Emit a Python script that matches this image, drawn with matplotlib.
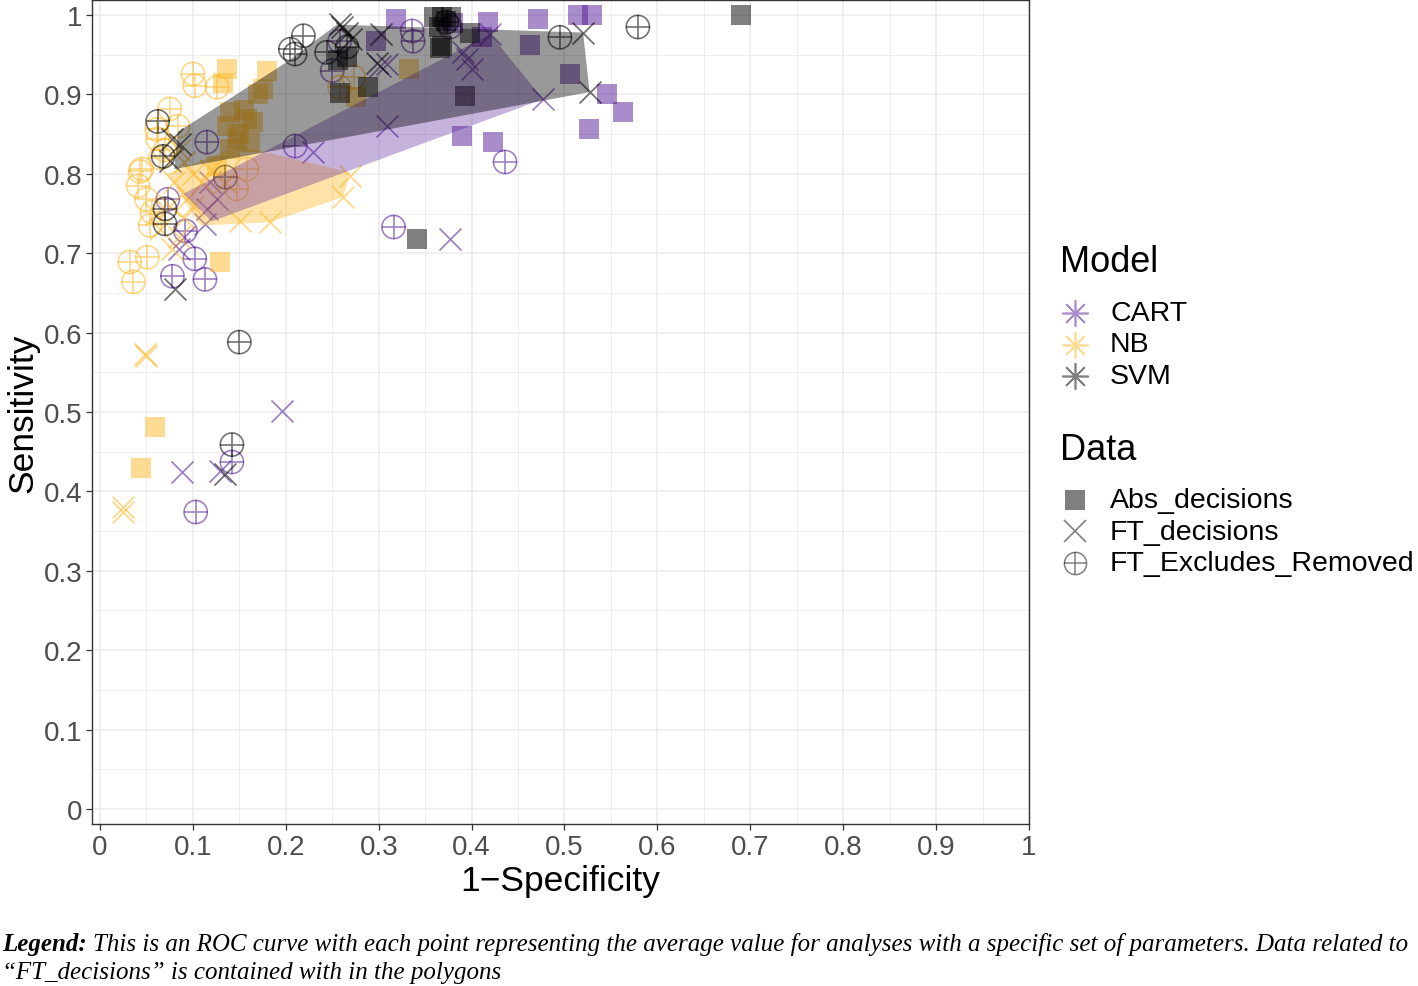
import matplotlib
matplotlib.use("Agg")
import matplotlib.pyplot as plt

plt.rcParams['font.family'] = ['Liberation Sans', 'DejaVu Sans']

# colours per model
colors = {'CART': '#541b96', 'NB': '#fdb827', 'SVM': '#000000'}

# ---- data: (1-specificity, sensitivity) per model / data set ----
cart_abs_x = [0.319, 0.418, 0.471, 0.515, 0.530, 0.546, 0.563, 0.526, 0.390, 0.423, 0.297, 0.463, 0.506, 0.411, 0.380]
cart_abs_y = [0.995, 0.991, 0.995, 1.000, 1.000, 0.900, 0.878, 0.856, 0.848, 0.840, 0.967, 0.962, 0.926, 0.973, 0.990]
nb_abs_x = [0.137, 0.180, 0.132, 0.176, 0.170, 0.140, 0.158, 0.137, 0.147, 0.140, 0.161, 0.126, 0.150, 0.165, 0.155, 0.333, 0.276, 0.129, 0.059, 0.044]
nb_abs_y = [0.932, 0.930, 0.915, 0.907, 0.900, 0.878, 0.869, 0.860, 0.844, 0.831, 0.840, 0.810, 0.850, 0.865, 0.880, 0.932, 0.897, 0.689, 0.481, 0.430]
svm_abs_x = [0.360, 0.368, 0.372, 0.378, 0.365, 0.368, 0.398, 0.393, 0.289, 0.256, 0.266, 0.258, 0.341, 0.690, 0.366]
svm_abs_y = [0.997, 0.997, 0.993, 0.997, 0.985, 0.961, 0.978, 0.898, 0.909, 0.944, 0.947, 0.902, 0.718, 1.000, 0.958]

cart_ft_x = [0.309, 0.309, 0.229, 0.477, 0.391, 0.400, 0.420, 0.377, 0.088, 0.196, 0.129, 0.113, 0.118, 0.126, 0.115, 0.090, 0.085, 0.395, 0.301]
cart_ft_y = [0.938, 0.860, 0.827, 0.894, 0.953, 0.932, 0.976, 0.718, 0.424, 0.501, 0.426, 0.737, 0.790, 0.768, 0.756, 0.720, 0.705, 0.945, 0.936]
nb_ft_x = [0.269, 0.262, 0.183, 0.151, 0.048, 0.050, 0.025, 0.025, 0.085, 0.090, 0.100, 0.110, 0.080, 0.095, 0.075, 0.090, 0.078, 0.085, 0.100, 0.120, 0.135, 0.060, 0.065]
nb_ft_y = [0.797, 0.771, 0.739, 0.741, 0.573, 0.570, 0.380, 0.374, 0.830, 0.815, 0.800, 0.790, 0.790, 0.770, 0.760, 0.745, 0.705, 0.720, 0.760, 0.805, 0.790, 0.750, 0.730]
svm_ft_x = [0.258, 0.266, 0.303, 0.298, 0.520, 0.527, 0.260, 0.270, 0.081, 0.135, 0.078, 0.086, 0.075]
svm_ft_y = [0.989, 0.978, 0.976, 0.940, 0.978, 0.903, 0.985, 0.970, 0.655, 0.422, 0.844, 0.838, 0.816]

cart_ex_x = [0.336, 0.337, 0.250, 0.258, 0.210, 0.436, 0.316, 0.115, 0.073, 0.092, 0.102, 0.078, 0.113, 0.142, 0.103, 0.377]
cart_ex_y = [0.980, 0.967, 0.930, 0.967, 0.835, 0.815, 0.733, 0.840, 0.768, 0.728, 0.693, 0.671, 0.667, 0.437, 0.374, 0.985]
nb_ex_x = [0.100, 0.102, 0.126, 0.075, 0.061, 0.084, 0.062, 0.043, 0.041, 0.045, 0.050, 0.056, 0.054, 0.032, 0.051, 0.036, 0.273, 0.258, 0.158, 0.147, 0.070, 0.065]
nb_ex_y = [0.926, 0.911, 0.909, 0.882, 0.856, 0.860, 0.844, 0.803, 0.785, 0.806, 0.768, 0.752, 0.735, 0.689, 0.695, 0.664, 0.922, 0.909, 0.806, 0.781, 0.830, 0.820]
svm_ex_x = [0.219, 0.205, 0.210, 0.244, 0.266, 0.495, 0.579, 0.373, 0.062, 0.068, 0.070, 0.070, 0.150, 0.142, 0.135]
svm_ex_y = [0.974, 0.957, 0.951, 0.953, 0.960, 0.972, 0.985, 0.991, 0.866, 0.822, 0.756, 0.737, 0.588, 0.459, 0.796]

# polygons around FT_decisions points
svm_poly_x = [0.080, 0.084, 0.200, 0.255, 0.520, 0.527]
svm_poly_y = [0.806, 0.853, 0.940, 0.988, 0.978, 0.903]
cart_poly_x = [0.090, 0.420, 0.477, 0.120]
cart_poly_y = [0.775, 0.976, 0.894, 0.740]
nb_poly_x = [0.072, 0.150, 0.269, 0.262, 0.183, 0.108]
nb_poly_y = [0.800, 0.835, 0.802, 0.771, 0.739, 0.735]

fig = plt.figure(figsize=(14.18, 9.87), dpi=100)
W, H = 1418, 987
ax = fig.add_axes([92 / W, 1 - 825 / H, (1029 - 92) / W, (825 - 1) / H])

# grid
ax.set_xticks([i / 10 for i in range(11)])
ax.set_yticks([i / 10 for i in range(11)])
ax.set_xticks([i / 20 for i in range(1, 21, 2)], minor=True)
ax.set_yticks([i / 20 for i in range(1, 21, 2)], minor=True)
ax.grid(which='major', color='#ebebeb', lw=1.1, zorder=0)
ax.grid(which='minor', color='#ebebeb', lw=0.6, zorder=0)
ax.set_axisbelow(True)
ax.tick_params(which='minor', length=0)
ax.tick_params(which='major', length=4, width=0.9, color='#333333', labelsize=20,
               labelcolor='#4d4d4d', pad=3)
ax.set_xticklabels(['0', '0.1', '0.2', '0.3', '0.4', '0.5', '0.6', '0.7', '0.8', '0.9', '1'])
ax.set_yticklabels(['0', '0.1', '0.2', '0.3', '0.4', '0.5', '0.6', '0.7', '0.8', '0.9', '1'])
for s in ax.spines.values():
    s.set_color('#333333')
    s.set_linewidth(1.0)

ax.set_xlim(-0.0086, 1.0)
ax.set_ylim(-0.019, 1.019)
ax.set_xlabel('1\u2212Specificity', fontsize=25.5, labelpad=3)
ax.set_ylabel('Sensitivity', fontsize=25.5, labelpad=3)

abs_data = {'CART': (cart_abs_x, cart_abs_y), 'NB': (nb_abs_x, nb_abs_y), 'SVM': (svm_abs_x, svm_abs_y)}
ft_data = {'CART': (cart_ft_x, cart_ft_y), 'NB': (nb_ft_x, nb_ft_y), 'SVM': (svm_ft_x, svm_ft_y)}
ex_data = {'CART': (cart_ex_x, cart_ex_y), 'NB': (nb_ex_x, nb_ex_y), 'SVM': (svm_ex_x, svm_ex_y)}
polys = {'NB': (nb_poly_x, nb_poly_y), 'CART': (cart_poly_x, cart_poly_y), 'SVM': (svm_poly_x, svm_poly_y)}
poly_alpha = {'NB': 0.4, 'CART': 0.33, 'SVM': 0.4}

for m in ['CART', 'NB', 'SVM']:
    c = colors[m]
    x, y = abs_data[m]
    ax.scatter(x, y, marker='s', s=200, color=c, alpha=0.5, lw=0, zorder=2)
    x, y = ft_data[m]
    ax.scatter(x, y, marker='x', s=250, color=c, alpha=0.55, lw=1.3, zorder=2)
    x, y = ex_data[m]
    ax.scatter(x, y, marker='o', s=280, facecolors='none', edgecolors=c, alpha=0.55, lw=1.2, zorder=2)
    ax.scatter(x, y, marker='+', s=280, color=c, alpha=0.55, lw=1.2, zorder=2)

for m in ['NB', 'CART', 'SVM']:
    px, py = polys[m]
    ax.fill(px, py, color=colors[m], alpha=poly_alpha[m], lw=0, zorder=3)

# ---- legend drawn by hand on the right ----
lg = fig.add_axes([0, 0, 1, 1], facecolor='none')
lg.set_xlim(0, W)
lg.set_ylim(H, 0)
lg.axis('off')
lg.text(1060, 263, 'Model', fontsize=26, va='center', ha='left')
for i, m in enumerate(['CART', 'NB', 'SVM']):
    yy = 314 + i * 31.5
    lg.plot([1075], [yy], marker=(8, 2, 0), ms=19, color=colors[m], alpha=0.5, mew=1.2, ls='none')
    lg.text(1110, yy, m, fontsize=20.5, va='center', ha='left')
lg.text(1060, 451, 'Data', fontsize=26, va='center', ha='left')
dlabels = ['Abs_decisions', 'FT_decisions', 'FT_Excludes_Removed']
lg.plot([1075], [501], marker='s', ms=14, color='k', alpha=0.5, mew=0, ls='none')
lg.plot([1075], [532], marker='x', ms=16, color='k', alpha=0.5, mew=1.2, ls='none')
lg.plot([1075], [564], marker='o', ms=16, mfc='none', mec='k', alpha=0.5, mew=1.1, ls='none')
lg.plot([1075], [564], marker='+', ms=16, color='k', alpha=0.5, mew=1.1, ls='none')
for i, t in enumerate(dlabels):
    lg.text(1110, 501 + i * 31.5, t, fontsize=20.5, va='center', ha='left')

# ---- caption ----
cap_font = ['Liberation Serif', 'DejaVu Serif']
cap_size = 18
fig.canvas.draw()
r = fig.canvas.get_renderer()
t1 = fig.text(2 / W, 1 - 945 / H, 'Legend:', family=cap_font, style='italic', weight='bold',
              fontsize=cap_size, va='center', ha='left')
bb = t1.get_window_extent(renderer=r)
fig.text((bb.x1 + 6) / W, 1 - 945 / H,
         'This is an ROC curve with each point representing the average value for analyses with a specific set of parameters. Data related to',
         family=cap_font, style='italic', fontsize=cap_size, va='center', ha='left')
fig.text(2 / W, 1 - 973 / H, '\u201cFT_decisions\u201d is contained with in the polygons',
         family=cap_font, style='italic', fontsize=cap_size, va='center', ha='left')

fig.savefig('out.png', dpi=100)
